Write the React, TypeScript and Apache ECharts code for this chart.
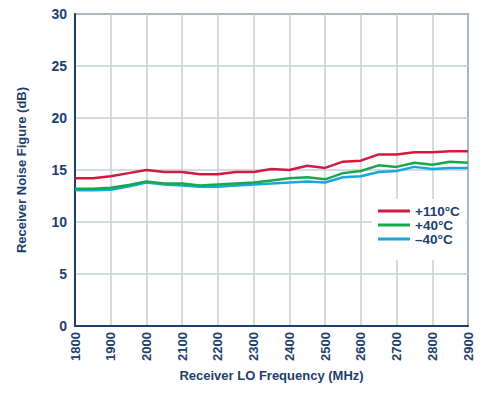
import React, { useEffect, useRef } from "react";
import * as echarts from "echarts";

const freqs = [1800, 1850, 1900, 1950, 2000, 2050, 2100, 2150, 2200, 2250, 2300, 2350, 2400, 2450, 2500, 2550, 2600, 2650, 2700, 2750, 2800, 2850, 2900];
const nf110 = [14.2, 14.2, 14.4, 14.7, 15.0, 14.8, 14.8, 14.6, 14.6, 14.8, 14.8, 15.1, 15.0, 15.4, 15.2, 15.8, 15.9, 16.5, 16.5, 16.7, 16.7, 16.8, 16.8];
const nf40 = [13.2, 13.2, 13.3, 13.55, 13.9, 13.7, 13.7, 13.5, 13.6, 13.7, 13.8, 14.0, 14.2, 14.3, 14.1, 14.7, 14.9, 15.45, 15.3, 15.7, 15.5, 15.8, 15.7];
const nfm40 = [13.05, 13.05, 13.1, 13.4, 13.8, 13.6, 13.5, 13.4, 13.4, 13.5, 13.6, 13.7, 13.8, 13.9, 13.8, 14.3, 14.4, 14.8, 14.9, 15.3, 15.1, 15.2, 15.2];
const seriesNames = ["+110°C", "+40°C", "\u201340°C"];
const seriesColors = ["#d2193f", "#17a84a", "#1aa6dc"];

const navy = "#1c3f6d";
const font = "'Liberation Sans', Arial, sans-serif";

export default function App() {
  const ref = useRef<HTMLDivElement>(null);
  useEffect(() => {
    if (!ref.current) return;
    const chart = echarts.init(ref.current, null, { renderer: "svg" });
    const datasets = [nf110, nf40, nfm40];
    chart.setOption({
      animation: false,
      backgroundColor: "#ffffff",
      grid: {
        left: 75,
        top: 14,
        right: 32,
        bottom: 67,
        show: true,
        borderColor: navy,
        borderWidth: 1.5,
      },
      legend: {
        orient: "vertical",
        left: 372,
        top: 199,
        itemWidth: 32,
        itemHeight: 3,
        itemGap: 0,
        icon: "rect",
        backgroundColor: "#ffffff",
        padding: [5, 6, 14, 6],
        textStyle: { color: navy, fontFamily: font, fontWeight: "bold", fontSize: 13.5, lineHeight: 12.7 },
        data: seriesNames,
      },
      xAxis: {
        type: "value",
        min: 1800,
        max: 2900,
        interval: 100,
        name: "Receiver LO Frequency (MHz)",
        nameLocation: "middle",
        nameGap: 43,
        nameTextStyle: { color: navy, fontFamily: font, fontWeight: "bold", fontSize: 13 },
        axisLine: { show: true, lineStyle: { color: navy, width: 2 } },
        axisTick: { show: false },
        axisLabel: {
          rotate: 90,
          color: navy,
          fontFamily: font,
          fontWeight: "bold",
          fontSize: 13,
          margin: 6,
          formatter: (v: number) => String(v),
        },
        splitLine: { show: true, lineStyle: { color: "#c5cfda", width: 1.5 } },
      },
      yAxis: {
        type: "value",
        min: 0,
        max: 30,
        interval: 5,
        name: "Receiver Noise Figure (dB)",
        nameLocation: "middle",
        nameGap: 47,
        nameTextStyle: { color: navy, fontFamily: font, fontWeight: "bold", fontSize: 13 },
        axisLine: { show: true, lineStyle: { color: navy, width: 2 } },
        axisTick: { show: false },
        axisLabel: {
          color: navy,
          fontFamily: font,
          fontWeight: "bold",
          fontSize: 14,
          margin: 8,
        },
        splitLine: { show: true, lineStyle: { color: "#c5cfda", width: 1.5 } },
      },
      series: datasets.map((d, i) => ({
        name: seriesNames[i],
        type: "line",
        symbol: "none",
        z: 3 - i,
        color: seriesColors[i],
        lineStyle: { width: 2.5, color: seriesColors[i] },
        data: freqs.map((f, j) => [f, d[j]]),
      })),
    });
    return () => chart.dispose();
  }, []);
  return <div ref={ref} style={{ width: 500, height: 393, margin: -8 }} />;
}
